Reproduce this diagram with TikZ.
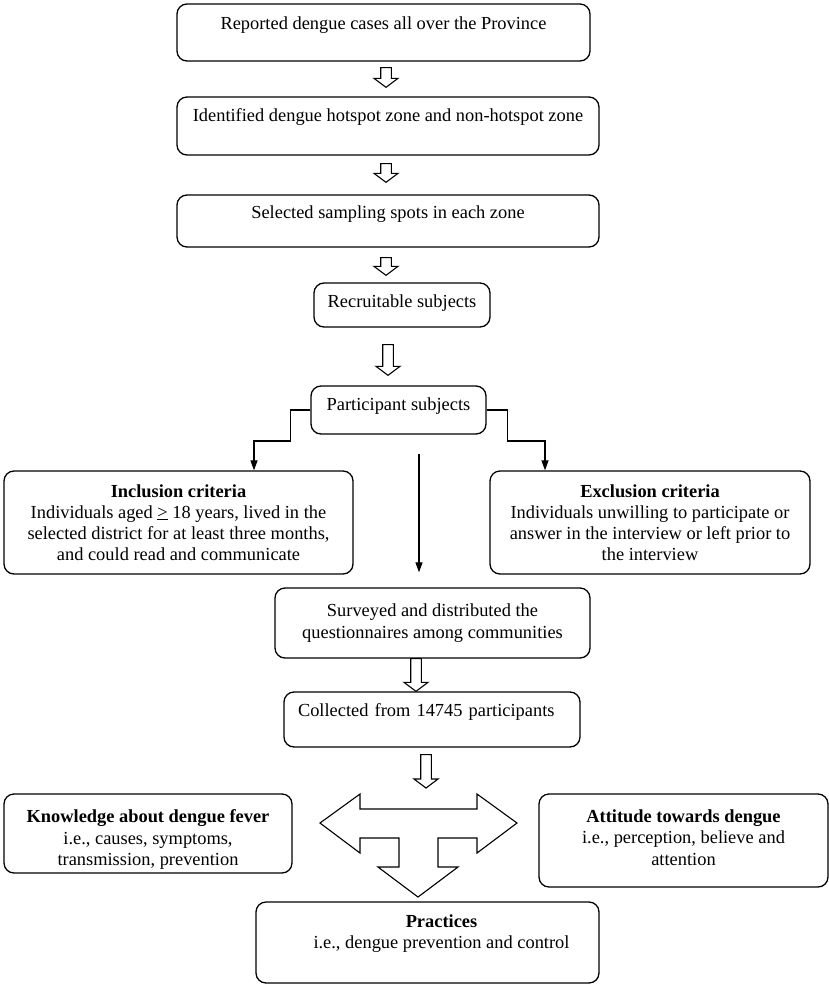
\documentclass[tikz,border=0pt]{standalone}
\usepackage{fontspec}
\setmainfont{Liberation Serif}
\usetikzlibrary{arrows.meta,calc}

% hollow block arrow: start point, tip point (tip is taken straight below the start)
\newcommand{\blockarrow}[2]{%
	\coordinate (ba-s) at (#1);
	\coordinate (ba-e) at (#2);
	\coordinate (ba-t) at (ba-s |- ba-e);
	\draw[hollow] ($(ba-s)+(-5.3,0)$) -- ($(ba-t)+(-5.3,-9)$) -- ($(ba-t)+(-12,-9)$) -- (ba-t)
		-- ($(ba-t)+(12,-9)$) -- ($(ba-t)+(5.3,-9)$) -- ($(ba-s)+(5.3,0)$) -- cycle;
}

\begin{document}
\begin{tikzpicture}[x=1pt,y=-1pt,
		box/.style={draw,line width=1.3pt,rounded corners=10pt,align=center,
			font=\fontsize{18.4}{21.2}\selectfont},
		hollow/.style={draw,line width=1.1pt,fill=white,line join=miter},
		link/.style={draw,line width=1.2pt,-{Triangle[length=10pt,width=7pt]}}]
	\useasboundingbox (0,0) rectangle (829,988);

	% main column
	\node[box,minimum width=413pt,minimum height=57pt,inner ysep=0pt,text height=25pt,text depth=32pt] (rep) at (383.5,32.5) {Reported dengue cases all over the Province};
	\node[box,minimum width=422pt,minimum height=58pt,inner ysep=0pt,text height=24pt,text depth=34pt] (hot) at (388,126) {Identified dengue hotspot zone and non-hotspot zone};
	\node[box,minimum width=422pt,minimum height=52pt,inner ysep=0pt,text height=23pt,text depth=29pt] (spot) at (388,221) {Selected sampling spots in each zone};
	\node[box,minimum width=176pt,minimum height=44pt,inner ysep=0pt,text height=24pt,text depth=20pt] (recr) at (402,305) {Recruitable subjects};
	\node[box,minimum width=175pt,minimum height=48pt,inner ysep=0pt,text height=24pt,text depth=24pt] (part) at (398.5,410) {Participant subjects};

	% criteria
	\node[box,minimum width=349pt,minimum height=103pt] (incl) at (178.5,522.5) {\textbf{Inclusion criteria}\\Individuals aged \underline{>} 18 years, lived in the\\selected district for at least three months,\\and could read and communicate};
	\node[box,minimum width=320pt,minimum height=103pt] (excl) at (650,522.5) {\textbf{Exclusion criteria}\\Individuals unwilling to participate or\\answer in the interview or left prior to\\the interview};

	\node[box,minimum width=315pt,minimum height=70pt] (surv) at (432.5,623) {Surveyed and distributed the\\questionnaires among communities};
	\node[box,minimum height=55pt,text width=268pt,inner xsep=14pt,align=left,inner ysep=0pt,text height=24pt,text depth=31pt] (coll) at (432,719.5) {Collected from 14745 participants};

	% outcomes
	\node[box,minimum width=288pt,minimum height=79pt] (know) at (148,833.5) {\rule{0pt}{25pt}\textbf{Knowledge about dengue fever}\\i.e., causes, symptoms,\\transmission, prevention};
	\node[box,minimum width=289pt,minimum height=93pt,text depth=6pt] (att) at (683.5,840.5) {\textbf{Attitude towards dengue}\\i.e., perception, believe and\\attention};
	\node[box,minimum width=343pt,minimum height=81pt,text depth=21pt] (prac) at (427.5,942.5) {\hspace*{28pt}\textbf{Practices}\\\hspace*{28pt}i.e., dengue prevention and control};

	% block arrows
	\blockarrow{$(rep.south)+(2.5,6)$}{$(hot.north)+(0,-9)$}
	\blockarrow{$(hot.south)+(-2,8)$}{$(spot.north)+(0,-12)$}
	\blockarrow{$(spot.south)+(-2,10)$}{$(recr.north)+(0,-7)$}
	\blockarrow{$(recr.south)+(-14,17)$}{$(part.north)+(0,-10)$}
	\blockarrow{$(surv.south)+(-16.5,0)$}{coll.north}
	\coordinate (tee) at (418.5,823);
	\blockarrow{$(coll.south)+(-6,7)$}{$(tee)+(0,-35)$}

	% three-way arrow
	\draw[hollow] (320,823) -- (360,794) -- (360,809) -- (477,809) -- (477,794) -- (517,823)
		-- (477,853) -- (477,838) -- (438,838) -- (438,867) -- (458,867) -- (418,897)
		-- (378,867) -- (399,867) -- (399,838) -- (360,838) -- (360,853) -- cycle;

	% participant links
	\draw[link] (part.west) -- ++(-20,0) -- ++(0,31) -| ($(incl.north)+(75.5,0)$);
	\draw[link] (part.east) -- ++(21,0) -- ++(0,31) -| ($(excl.north)+(-105,0)$);
	\coordinate (midtop) at ($(part.south)+(20.5,19)$);
	\draw[link,shorten >=15pt] (midtop) -- (midtop |- surv.north);
\end{tikzpicture}
\end{document}
